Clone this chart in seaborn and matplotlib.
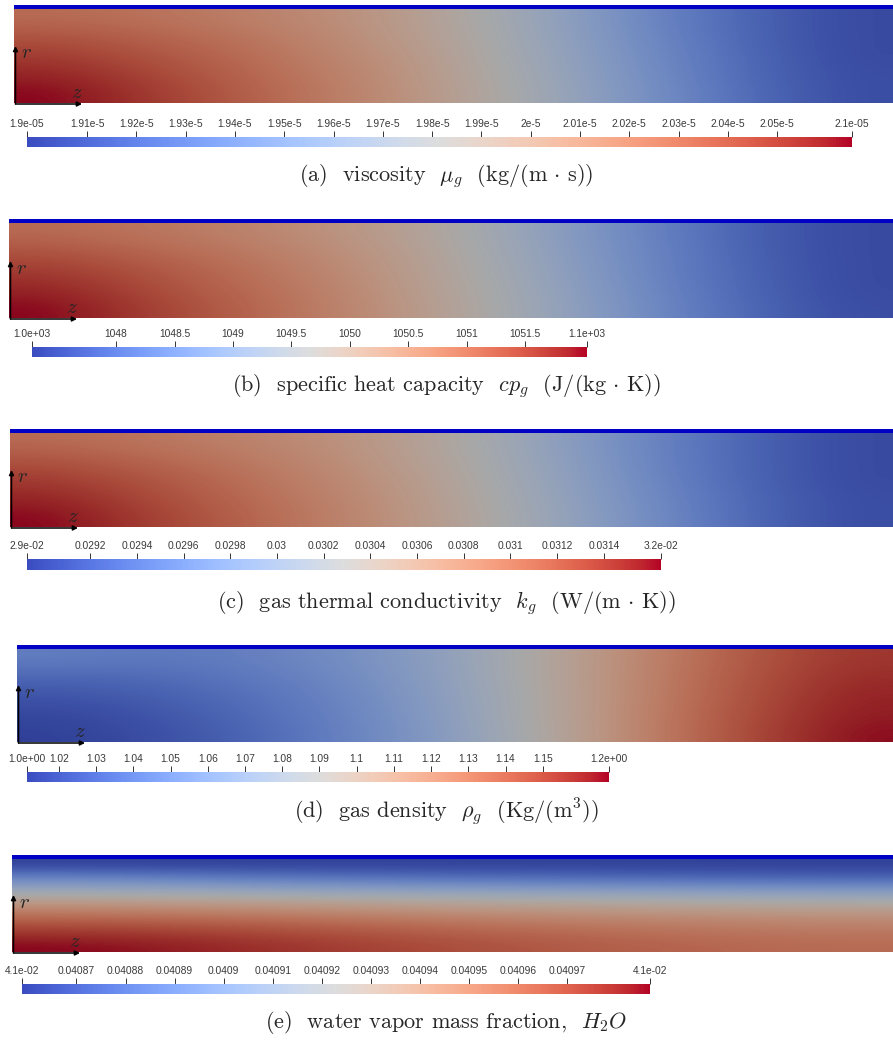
"""
plot.py - five ParaView-style field snapshots (gas properties along the tube)
"""

import numpy as np
import matplotlib
matplotlib.use('Agg')
import matplotlib.pyplot as plt
from matplotlib.colors import ListedColormap, Normalize
from matplotlib.cm import ScalarMappable
import seaborn as sns

sns.set_theme(style='white')
plt.rcParams['font.family'] = ['Liberation Sans', 'DejaVu Sans']
plt.rcParams['mathtext.fontset'] = 'cm'

# ---------------------------------------------------------------- data
# colour-bar ranges, tick values and labels
visc_range = [1.8978e-5, 2.0652e-5]
visc_ticks = [1.91e-5, 1.92e-5, 1.93e-5, 1.94e-5, 1.95e-5, 1.96e-5, 1.97e-5,
              1.98e-5, 1.99e-5, 2.0e-5, 2.01e-5, 2.02e-5, 2.03e-5, 2.04e-5, 2.05e-5]
visc_labels = ['1.91e-5', '1.92e-5', '1.93e-5', '1.94e-5', '1.95e-5', '1.96e-5', '1.97e-5',
               '1.98e-5', '1.99e-5', '2e-5', '2.01e-5', '2.02e-5', '2.03e-5', '2.04e-5', '2.05e-5']
visc_end_labels = ['1.9e-05', '2.1e-05']

cp_range = [1047.28, 1052.03]
cp_ticks = [1048, 1048.5, 1049, 1049.5, 1050, 1050.5, 1051, 1051.5]
cp_labels = ['1048', '1048.5', '1049', '1049.5', '1050', '1050.5', '1051', '1051.5']
cp_end_labels = ['1.0e+03', '1.1e+03']

k_range = [0.028929, 0.031645]
k_ticks = [0.0292, 0.0294, 0.0296, 0.0298, 0.0300, 0.0302, 0.0304,
           0.0306, 0.0308, 0.0310, 0.0312, 0.0314]
k_labels = ['0.0292', '0.0294', '0.0296', '0.0298', '0.03', '0.0302', '0.0304',
            '0.0306', '0.0308', '0.031', '0.0312', '0.0314']
k_end_labels = ['2.9e-02', '3.2e-02']

rho_range = [1.0114, 1.1678]
rho_ticks = [1.02, 1.03, 1.04, 1.05, 1.06, 1.07, 1.08, 1.09, 1.10,
             1.11, 1.12, 1.13, 1.14, 1.15]
rho_labels = ['1.02', '1.03', '1.04', '1.05', '1.06', '1.07', '1.08', '1.09', '1.1',
              '1.11', '1.12', '1.13', '1.14', '1.15']
rho_end_labels = ['1.0e+00', '1.2e+00']

h2o_range = [0.0408589, 0.0409869]
h2o_ticks = [0.04087, 0.04088, 0.04089, 0.04090, 0.04091, 0.04092,
             0.04093, 0.04094, 0.04095, 0.04096, 0.04097]
h2o_labels = ['0.04087', '0.04088', '0.04089', '0.0409', '0.04091', '0.04092',
              '0.04093', '0.04094', '0.04095', '0.04096', '0.04097']
h2o_end_labels = ['4.1e-02', '4.1e-02']

# coarse field samples, position within the colour bar (0 = blue end, 1 = red end)
# rows: wall (top) -> axis (bottom), columns: inlet (left) -> right edge
visc_field = [
    [0.78, 0.76, 0.72, 0.67, 0.59, 0.48, 0.35, 0.22, 0.12, 0.05],
    [0.85, 0.81, 0.76, 0.69, 0.60, 0.49, 0.36, 0.23, 0.12, 0.05],
    [0.91, 0.85, 0.79, 0.71, 0.62, 0.50, 0.37, 0.24, 0.13, 0.05],
    [0.96, 0.89, 0.81, 0.73, 0.63, 0.51, 0.38, 0.25, 0.13, 0.06],
    [1.00, 0.92, 0.83, 0.74, 0.64, 0.52, 0.39, 0.26, 0.14, 0.06],
]
cp_field = [
    [0.78, 0.75, 0.71, 0.65, 0.57, 0.46, 0.33, 0.21, 0.11, 0.05],
    [0.85, 0.80, 0.75, 0.68, 0.59, 0.47, 0.34, 0.22, 0.11, 0.05],
    [0.91, 0.85, 0.78, 0.70, 0.60, 0.48, 0.35, 0.22, 0.12, 0.05],
    [0.96, 0.88, 0.80, 0.72, 0.61, 0.49, 0.36, 0.23, 0.12, 0.05],
    [1.00, 0.91, 0.82, 0.73, 0.62, 0.50, 0.37, 0.24, 0.13, 0.06],
]
k_field = [
    [0.78, 0.75, 0.71, 0.66, 0.58, 0.47, 0.34, 0.22, 0.12, 0.05],
    [0.85, 0.80, 0.75, 0.68, 0.59, 0.48, 0.35, 0.22, 0.12, 0.05],
    [0.91, 0.85, 0.78, 0.70, 0.61, 0.49, 0.36, 0.23, 0.12, 0.05],
    [0.96, 0.88, 0.80, 0.72, 0.62, 0.50, 0.37, 0.24, 0.13, 0.06],
    [1.00, 0.91, 0.82, 0.73, 0.63, 0.51, 0.38, 0.25, 0.13, 0.06],
]
rho_field = [
    [0.22, 0.20, 0.22, 0.27, 0.35, 0.46, 0.60, 0.74, 0.85, 0.92],
    [0.14, 0.15, 0.19, 0.25, 0.34, 0.46, 0.60, 0.75, 0.86, 0.94],
    [0.08, 0.11, 0.16, 0.23, 0.33, 0.45, 0.60, 0.75, 0.87, 0.96],
    [0.04, 0.08, 0.14, 0.22, 0.32, 0.45, 0.60, 0.76, 0.88, 0.97],
    [0.02, 0.06, 0.12, 0.21, 0.31, 0.44, 0.60, 0.76, 0.89, 0.99],
]
h2o_field = [
    [0.02, 0.02, 0.02, 0.02, 0.02],
    [0.25, 0.20, 0.17, 0.15, 0.13],
    [0.45, 0.42, 0.40, 0.38, 0.36],
    [0.65, 0.62, 0.58, 0.56, 0.54],
    [0.80, 0.77, 0.72, 0.69, 0.67],
    [0.92, 0.87, 0.81, 0.77, 0.74],
    [1.00, 0.93, 0.86, 0.81, 0.78],
]

captions = [
    r'(a)  viscosity  $\mu_g$  (kg/(m $\cdot$ s))',
    r'(b)  specific heat capacity  $cp_g$  (J/(kg $\cdot$ K))',
    r'(c)  gas thermal conductivity  $k_g$  (W/(m $\cdot$ K))',
    r'(d)  gas density  $\rho_g$  (Kg/(m$^3$))',
    r'(e)  water vapor mass fraction,  $H_2O$',
]

panels = [
    (visc_field, visc_range, visc_ticks, visc_labels, visc_end_labels),
    (cp_field, cp_range, cp_ticks, cp_labels, cp_end_labels),
    (k_field, k_range, k_ticks, k_labels, k_end_labels),
    (rho_field, rho_range, rho_ticks, rho_labels, rho_end_labels),
    (h2o_field, h2o_range, h2o_ticks, h2o_labels, h2o_end_labels),
]

# ---------------------------------------------------------------- layout (pixels)
W, H = 893, 1041
WALL_PX = 4
layout = [
    dict(field=(14, 5, 103), cbar=(27, 852, 137, 147), cap_y=176),
    dict(field=(9, 219, 318), cbar=(32, 587, 347, 357), cap_y=386),
    dict(field=(10, 429, 527), cbar=(27, 661, 559, 570), cap_y=603),
    dict(field=(17, 645, 742), cbar=(27, 609, 772, 782), cap_y=812),
    dict(field=(12, 855, 952), cbar=(22, 650, 984, 994), cap_y=1022),
]

bar_cmap = sns.color_palette('coolwarm', as_cmap=True)
shade = bar_cmap(np.linspace(0, 1, 256))
shade[:, :3] *= 0.76          # lit surface in the render is darker than the bar
field_cmap = ListedColormap(shade)


def px_axes(fig, x0, x1, y0, y1):
    return fig.add_axes([x0 / W, 1 - y1 / H, (x1 - x0) / W, (y1 - y0) / H])


def draw_field(fig, field, box):
    x0, y0, y1 = box
    ax = px_axes(fig, x0, W, y0, y1)
    ax.imshow(np.array(field), cmap=field_cmap, vmin=0, vmax=1,
              interpolation='bicubic', aspect='auto', extent=(0, 1, 0, 1))
    top = 1 + WALL_PX / (y1 - y0 - WALL_PX)
    ax.axhspan(1, top, color='#0000c4', lw=0)
    ax.set_xlim(0, 1)
    ax.set_ylim(0, top)
    ax.axis('off')

    # small r / z axis triad at the inlet
    arrow = dict(arrowstyle='-|>', color='black', lw=1.1, mutation_scale=7,
                 shrinkA=0, shrinkB=0)
    ax.annotate('', xy=(1.5, 57), xytext=(1.5, -1), xycoords='axes pixels',
                textcoords='axes pixels', arrowprops=arrow, annotation_clip=False)
    ax.annotate('', xy=(68, -1), xytext=(1.5, -1), xycoords='axes pixels',
                textcoords='axes pixels', arrowprops=arrow, annotation_clip=False)
    ax.annotate('$r$', xy=(7, 50), xycoords='axes pixels', fontsize=15,
                va='center', ha='left')
    ax.annotate('$z$', xy=(57, 1), xycoords='axes pixels', fontsize=15,
                va='bottom', ha='left')


def draw_bar(fig, vrange, ticks, labels, end_labels, box):
    x0, x1, y0, y1 = box
    cax = px_axes(fig, x0, x1, y0, y1)
    sm = ScalarMappable(norm=Normalize(*vrange), cmap=bar_cmap)
    cb = fig.colorbar(sm, cax=cax, orientation='horizontal', ticklocation='top')
    cb.outline.set_visible(False)
    cb.set_ticks([vrange[0]] + ticks + [vrange[1]],
                 labels=[end_labels[0]] + labels + [end_labels[1]])
    cb.ax.minorticks_off()
    cb.ax.tick_params(axis='x', length=4.5, width=0.7, color='#333333',
                      labelsize=7.4, labelcolor='#3a3a3a', pad=1.5)


fig = plt.figure(figsize=(W / 100, H / 100), dpi=100)
for (field, vrange, ticks, labels, end_labels), lay, cap in zip(panels, layout, captions):
    draw_field(fig, field, lay['field'])
    draw_bar(fig, vrange, ticks, labels, end_labels, lay['cbar'])
    fig.text(0.5, 1 - lay['cap_y'] / H, cap, ha='center', va='center',
             fontsize=16, family='cmr10')

plt.savefig('out.png', dpi=100)
plt.close()
